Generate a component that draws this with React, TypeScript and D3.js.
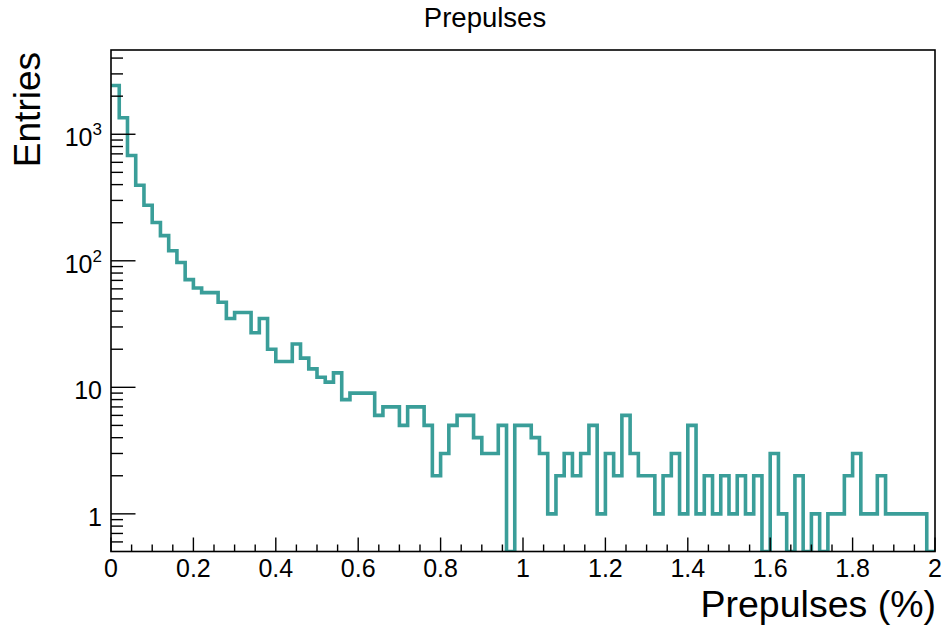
import React from "react";
import * as d3 from "d3";

// ---- data ----
const binEdgesMin = 0;
const binEdgesMax = 2;
const binCount = 100;
const binValues: number[] = [
  2430, 1350, 680, 395, 275, 201, 158, 120, 97, 71,
  61, 56, 56, 47, 35, 39, 39, 27, 35, 20,
  16, 16, 22, 17, 14, 12, 11, 13, 8, 9,
  9, 9, 6, 7, 7, 5, 7, 7, 5, 2,
  3, 5, 6, 6, 4, 3, 3, 5, 0, 5,
  5, 4, 3, 1, 2, 3, 2, 3, 5, 1,
  3, 2, 6, 3, 2, 2, 1, 2, 3, 1,
  5, 1, 2, 1, 2, 1, 2, 1, 2, 0,
  3, 1, 0, 2, 0, 1, 0, 1, 1, 2,
  3, 1, 1, 2, 1, 1, 1, 1, 1, 0,
];
const yMin = 0.504;
const yMax = 4634;
const xMajorLabels = ["0", "0.2", "0.4", "0.6", "0.8", "1", "1.2", "1.4", "1.6", "1.8", "2"];
const yMajorValues = [1, 10, 100, 1000];
const yMajorLabels = [["1", ""], ["10", ""], ["10", "2"], ["10", "3"]];
const titleText = "Prepulses";
const xTitleText = "Prepulses (%)";
const yTitleText = "Entries";

const W = 943;
const H = 631;
const M = { left: 111, right: 935, top: 50, bottom: 551.5 };
const FONT = "'Liberation Sans', Arial, Helvetica, sans-serif";
const LINE = "#3a9e99";

export default function App() {
  const x = d3.scaleLinear().domain([binEdgesMin, binEdgesMax]).range([M.left, M.right]);
  const y = d3.scaleLog().domain([yMin, yMax]).range([M.bottom, M.top]);
  const bw = (binEdgesMax - binEdgesMin) / binCount;

  // histogram step path
  const yv = (v: number) => (v > yMin ? y(v) : M.bottom);
  let d = "";
  binValues.forEach((v, i) => {
    const x0 = x(binEdgesMin + i * bw);
    const x1 = x(binEdgesMin + (i + 1) * bw);
    const yy = yv(v);
    if (i === 0) d += `M${x0},${yy}`;
    else d += `V${yy}`;
    d += `H${x1}`;
  });

  const xTicks = d3.range(0, 41).map((k) => ({ v: k * 0.05, major: k % 4 === 0 }));
  const yTicks = y.ticks().filter((v) => v >= yMin && v <= yMax);
  const isMajor = (v: number) => Math.abs(Math.log10(v) - Math.round(Math.log10(v))) < 1e-6;

  return (
    <svg width={W} height={H} style={{ position: "absolute", left: 0, top: 0, background: "#fff" }}>
      <rect x={0} y={0} width={W} height={H} fill="#fff" />
      <defs>
        <clipPath id="frameClip">
          <rect x={M.left} y={M.top - 2} width={M.right - M.left} height={M.bottom - M.top + 2} />
        </clipPath>
      </defs>
      <path d={d} fill="none" stroke={LINE} strokeWidth={3.6} clipPath="url(#frameClip)" strokeLinejoin="miter" />
      {/* frame */}
      <rect x={M.left} y={M.top} width={M.right - M.left} height={M.bottom - M.top} fill="none" stroke="#000" strokeWidth={1.6} />
      {/* x ticks */}
      {xTicks.map((t, i) => (
        <line key={"xt" + i} x1={x(t.v)} x2={x(t.v)} y1={M.bottom} y2={M.bottom - (t.major ? 14 : 7)} stroke="#000" strokeWidth={1.4} />
      ))}
      {xMajorLabels.map((l, i) => (
        <text key={"xl" + i} x={x(i * 0.2)} y={576.5} textAnchor="middle" fontFamily={FONT} fontSize={25}>
          {l}
        </text>
      ))}
      {/* y ticks */}
      {yTicks.map((v, i) => (
        <line key={"yt" + i} x1={M.left} x2={M.left + (isMajor(v) ? 24.5 : 12)} y1={y(v)} y2={y(v)} stroke="#000" strokeWidth={1.4} />
      ))}
      {yMajorValues.map((v, i) => (
        <text key={"yl" + i} x={102} y={y(v) + 12} textAnchor="end" fontFamily={FONT} fontSize={25}>
          {yMajorLabels[i][0]}
          {yMajorLabels[i][1] ? (
            <tspan fontSize={17} dy={-11}>
              {yMajorLabels[i][1]}
            </tspan>
          ) : null}
        </text>
      ))}
      {/* titles */}
      <text x={485} y={27.3} textAnchor="middle" fontFamily={FONT} fontSize={27.5}>
        {titleText}
      </text>
      <text x={936} y={617} textAnchor="end" fontFamily={FONT} fontSize={37.5}>
        {xTitleText}
      </text>
      <text transform="translate(40,52) rotate(-90)" textAnchor="end" fontFamily={FONT} fontSize={37}>
        {yTitleText}
      </text>
    </svg>
  );
}
